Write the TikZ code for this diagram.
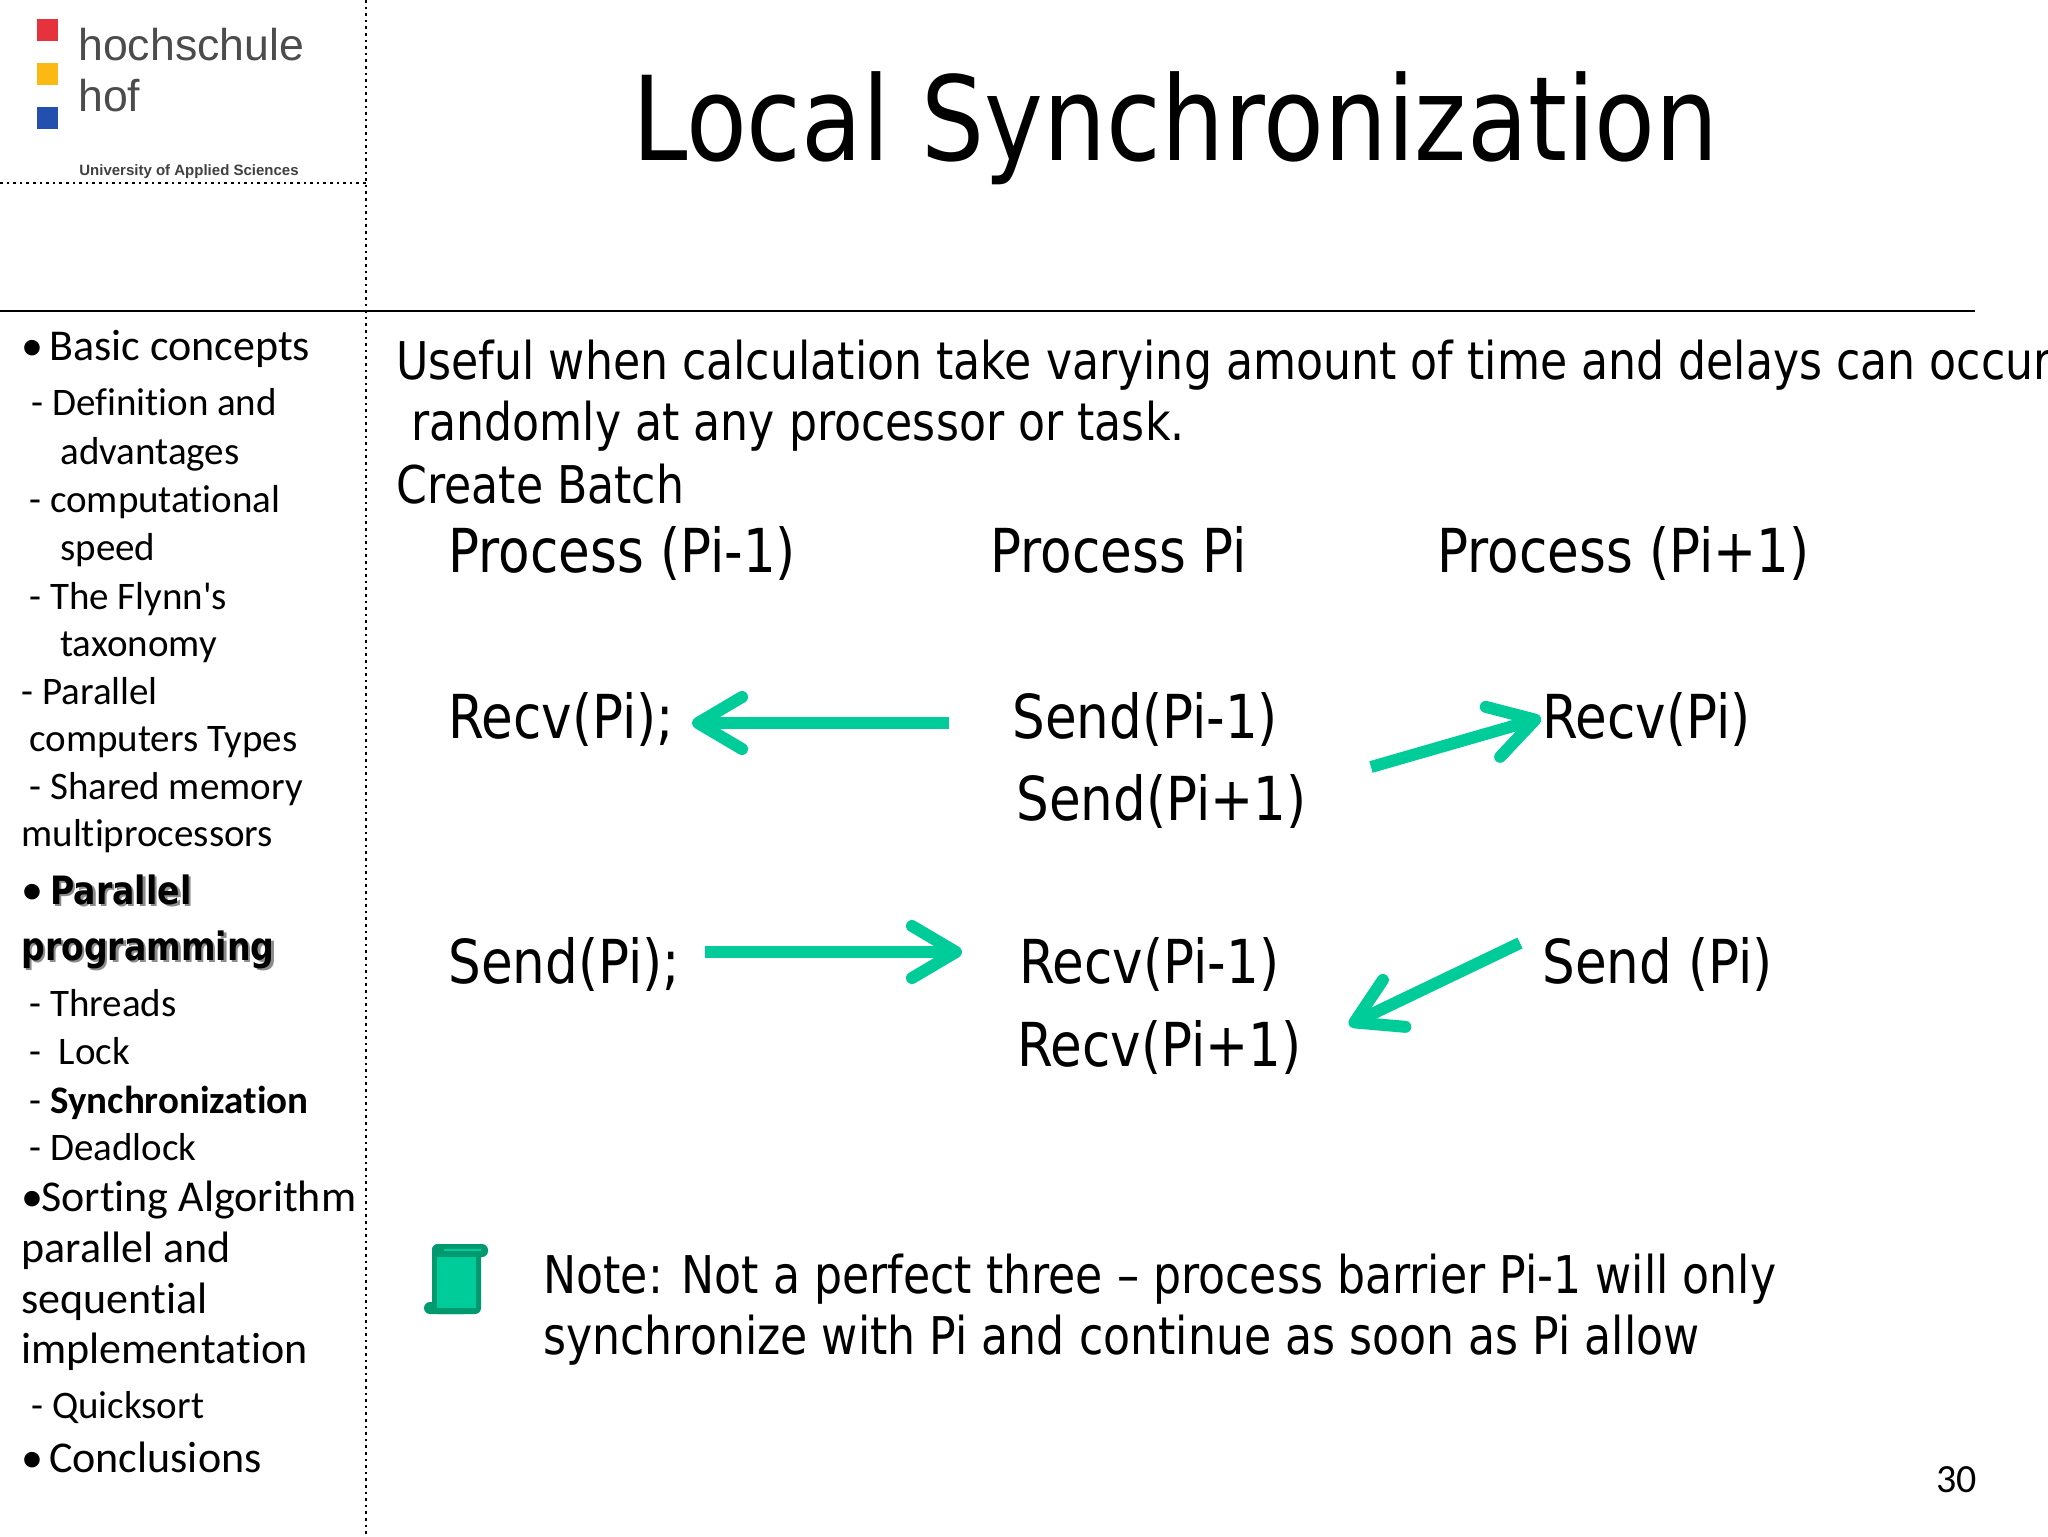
\documentclass[tikz,border=0pt]{standalone}
\usepackage{fontspec}
\setmainfont[Ligatures={NoCommon,TeXOff}]{Carlito}
\newfontfamily\bodyfont[FakeStretch=0.85]{DejaVu Sans}
\newfontfamily\logofont{Liberation Sans}
\usetikzlibrary{arrows.meta,calc}
\definecolor{flowgreen}{RGB}{0,204,153}
\definecolor{scrolldark}{RGB}{0,153,112}
\definecolor{logored}{RGB}{230,50,60}
\definecolor{logoyellow}{RGB}{253,185,19}
\definecolor{logoblue}{RGB}{35,80,175}
\newcommand{\softshadow}[1]{\rlap{\raisebox{-1.2pt}{\kern1.2pt\textcolor{black!45}{#1}}}#1}
\tikzset{
	textline/.style={
		anchor=base west,
		inner sep=0pt,
	},
	side/.style={
		textline,
		font=\fontsize{19.5}{22}\selectfont,
	},
	sidehead/.style={
		textline,
		font=\fontsize{22}{24}\selectfont,
	},
	sidebold/.style={
		textline,
		font=\bodyfont\bfseries\fontsize{19.5}{22}\selectfont,
	},
	body/.style={
		textline,
		font=\bodyfont\fontsize{26}{30}\selectfont,
	},
	proc/.style={
		textline,
		font=\bodyfont\fontsize{30.3}{34}\selectfont,
	},
	link/.style={
		-{Straight Barb[round,length=22pt,width=26pt]},
		line width=6pt,
		flowgreen,
	},
}

\begin{document}
\begin{tikzpicture}[x=0.5pt,y=-0.5pt]
\useasboundingbox (0,0) rectangle (2048,1536);
\clip (0,0) rectangle (2048,1536);

% frame
\coordinate (vtop) at (366,0);
\coordinate (vbot) at (366,1536);
\coordinate (hleft) at (0,183);
\coordinate (hright) at (366,183);
\coordinate (rleft) at (0,311);
\coordinate (rright) at (1975,311);
\draw[line width=1.3pt,dotted] (vtop) -- (vbot);
\draw[line width=1.3pt,dotted] (hleft) -- (hright);
\draw[line width=1.2pt] (rleft) -- (rright);

% logo
\fill[logored] (37,19) rectangle (58,41);
\fill[logoyellow] (37,63) rectangle (58,85);
\fill[logoblue] (37,107) rectangle (58,129);
\node[textline,font=\logofont\fontsize{22.3}{26}\selectfont,text=black!70] (hochschule) at (78,61) {hochschule};
\node[textline,font=\logofont\fontsize{22.3}{26}\selectfont,text=black!70] (hof) at (78,112) {hof};
\node[textline,font=\logofont\bfseries\fontsize{7.5}{10}\selectfont,text=black!75] (university) at (79,175) {University of Applied Sciences};

\node[textline,font=\bodyfont\fontsize{58.5}{64}\selectfont] (title) at (632,160) {Local Synchronization};

% side menu
\node[sidehead] (basic) at (21,360) {•\kern-2pt\ Basic concepts};
\node[side] (definition) at (31,415) {-\ Definition and};
\node[side] (advantages) at (60,464) {advantages};
\node[side] (computational) at (29,512) {- computational};
\node[side] (speed) at (60,560) {speed};
\node[side] (flynn) at (29,609) {- The Flynn's};
\node[side] (taxonomy) at (60,656) {taxonomy};
\node[side] (parallelc) at (21,704) {- Parallel};
\node[side] (computers) at (29,751) {computers Types};
\node[side] (shared) at (29,799) {- Shared memory};
\node[side] (multi) at (21,846) {multiprocessors};
\node[sidehead] (bullet) at (21,904) {•};
\node[sidebold] (parallelp) at (50,904) {\softshadow{Parallel}};
\node[sidebold] (programming) at (21,960) {\softshadow{programming}};
\node[side] (threads) at (29,1016) {- Threads};
\node[side] (lock) at (29,1064) {-\ \ Lock};
\node[side] (syncdash) at (29,1113) {-};
\node[side,font=\bfseries\fontsize{19.5}{22}\selectfont] (sync) at (50,1113) {Synchronization};
\node[side] (deadlock) at (29,1160) {- Deadlock};
\node[sidehead] (sorting) at (21,1211) {•\kern-1pt Sorting Algorithm};
\node[sidehead] (parallela) at (21,1262) {parallel and};
\node[sidehead] (sequential) at (21,1313) {sequential};
\node[sidehead] (implementation) at (21,1363) {implementation};
\node[side] (quicksort) at (31,1418) {- Quicksort};
\node[sidehead] (conclusions) at (21,1472) {•\kern-2pt\ Conclusions};

% text block
\node[body] (useful) at (396,379) {Useful when calculation take varying amount of time and delays can occur};
\node[body] (randomly) at (411,440) {randomly at any processor or task.};
\node[body] (batch) at (396,503) {Create Batch};

\node[proc] (phead) at (448,572) {Process (Pi-1)};
\node[proc] (ihead) at (990,572) {Process Pi};
\node[proc] (nhead) at (1437,572) {Process (Pi+1)};

\node[proc] (precv) at (448,738) {Recv(Pi);};
\node[proc] (isendp) at (1012,738) {Send(Pi-1)};
\node[proc] (isendn) at (1016,820) {Send(Pi+1)};
\node[proc] (nrecv) at (1542,738) {Recv(Pi)};

\node[proc] (psend) at (448,983) {Send(Pi);};
\node[proc] (irecvp) at (1019,983) {Recv(Pi-1)};
\node[proc] (irecvn) at (1017,1066) {Recv(Pi+1)};
\node[proc] (nsend) at (1542,983) {Send (Pi)};

\draw[link] ($(isendp.base west)+(-63,-15)$) -- ($(precv.base west)+(244,-15)$);
\draw[link] ($(isendn.base west)+(355,-53)$) -- ($(nrecv.base west)+(-1,-20)$);
\draw[link] ($(psend.base west)+(257,-31)$) -- ($(irecvp.base west)+(-57,-31)$);
\draw[link] ($(nsend.base west)+(-22,-40)$) -- ($(irecvn.base west)+(332,-41)$);

% note
\fill[scrolldark,rounded corners=3pt] (432,1244) rectangle (481,1314);
\fill[scrolldark,rounded corners=3pt] (432,1244) rectangle (488,1257);
\fill[scrolldark,rounded corners=3pt] (424,1302) rectangle (470,1314);
\fill[flowgreen] (437,1257) rectangle (476,1308);
\draw[flowgreen,line width=0.6pt] (444,1250) -- (481,1250);
\node[body] (notea) at (543,1293) {Note: Not a perfect three – process barrier Pi-1 will only};
\node[body] (noteb) at (543,1354) {synchronize with Pi and continue as soon as Pi allow};

\node[textline,font=\fontsize{20}{22}\selectfont] (page) at (1936,1492) {30};

\end{tikzpicture}
\end{document}
